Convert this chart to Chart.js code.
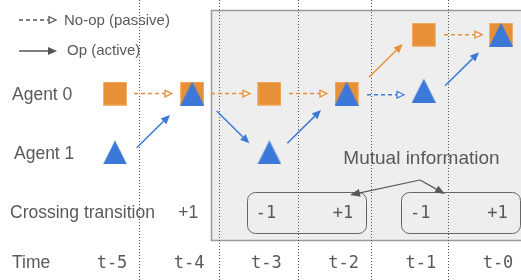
<!DOCTYPE html>
<html><head><meta charset="utf-8">
<script src="https://cdn.jsdelivr.net/npm/chart.js@4"></script>
<style>html,body{margin:0;padding:0;background:#fff}</style>
</head><body>
<canvas id="c" width="521" height="280"></canvas>
<script>
// ---- data ----
const timeLabels = ['t-5', 't-4', 't-3', 't-2', 't-1', 't-0'];
const rowLabels = ['Agent 0', 'Agent 1', 'Crossing transition', 'Time'];
const rowLevels = [2, 1, 0, -0.85];
const agent0Level = [2, 2, 2, 2, 3, 3];
const agent1Level = [1, 2, 1, 2, 2.05, 3];
const crossingValues = ['', '+1', '-1', '+1', '-1', '+1'];
const crossingGroups = [[2, 3], [4, 5]];           // time indices paired in boxes
const mutualInfoLabel = 'Mutual information';
const legendLabels = ['No-op (passive)', 'Op (active)'];
// transitions: [x0, y0, x1, y1, agent]  (time index, level)
const activeMoves = [
  [0.281, 1.081, 0.712, 1.637, 1],
  [1.317, 1.704, 1.740, 1.156, 1],
  [2.232, 1.156, 2.668, 1.721, 1],
  [3.290, 2.277, 3.727, 2.842, 0],
  [4.275, 2.134, 4.715, 2.701, 1]
];
const passiveMoves = [
  [0.246, 2, 0.738, 2, 0],
  [1.244, 2, 1.749, 2, 0],
  [2.254, 2, 2.746, 2, 0],
  [3.264, 1.98, 3.743, 1.98, 1],
  [4.262, 3, 4.754, 3, 0]
];
const dividers = [0.311, 1.347, 2.370, 3.316, 4.313];

// ---- styles ----
const ORANGE = '#e69138', BLUE = '#3c78d8', TEXT = '#595959';
const agentColors = [ORANGE, BLUE];
const SANS = '"Liberation Sans", Arial, sans-serif';
const MONO = '"DejaVu Sans Mono", monospace';
const LABEL_DX = -3;

function makeSquare() {
  const c = document.createElement('canvas'); c.width = 24; c.height = 24;
  const g = c.getContext('2d'); g.fillStyle = ORANGE; g.fillRect(0, 0, 24, 24);
  g.strokeStyle = 'rgba(255,200,150,0.6)'; g.lineWidth = 1; g.strokeRect(0.5, 0.5, 23, 23);
  return c;
}
function makeTriangle() {
  const c = document.createElement('canvas'); c.width = 24; c.height = 24;
  const g = c.getContext('2d'); g.fillStyle = BLUE;
  g.beginPath(); g.moveTo(12, 0); g.lineTo(24, 24); g.lineTo(0, 24); g.closePath(); g.fill();
  return c;
}

function head(ctx, x, y, ang, len, hw, hollow, color) {
  ctx.save();
  ctx.translate(x, y); ctx.rotate(ang);
  ctx.setLineDash([]);
  ctx.beginPath(); ctx.moveTo(0, 0); ctx.lineTo(-len, -hw); ctx.lineTo(-len, hw); ctx.closePath();
  if (hollow) { ctx.fillStyle = '#fff'; ctx.fill(); ctx.strokeStyle = color; ctx.lineWidth = 1.3; ctx.stroke(); }
  else { ctx.fillStyle = color; ctx.fill(); }
  ctx.restore();
}
function arrow(ctx, x0, y0, x1, y1, color, dashed) {
  const ang = Math.atan2(y1 - y0, x1 - x0);
  const len = dashed ? 7 : 9;
  const ex = x1 - Math.cos(ang) * len, ey = y1 - Math.sin(ang) * len;
  ctx.save();
  ctx.strokeStyle = color; ctx.lineWidth = 1.5;
  ctx.setLineDash(dashed ? [4, 3] : []);
  ctx.beginPath(); ctx.moveTo(x0, y0); ctx.lineTo(ex, ey); ctx.stroke();
  ctx.restore();
  head(ctx, x1, y1, ang, len, dashed ? 3.3 : 4, dashed, color);
}
function roundRect(ctx, x, y, w, h, r) {
  ctx.beginPath();
  ctx.moveTo(x + r, y); ctx.lineTo(x + w - r, y); ctx.arcTo(x + w, y, x + w, y + r, r);
  ctx.lineTo(x + w, y + h - r); ctx.arcTo(x + w, y + h, x + w - r, y + h, r);
  ctx.lineTo(x + r, y + h); ctx.arcTo(x, y + h, x, y + h - r, r);
  ctx.lineTo(x, y + r); ctx.arcTo(x, y, x + r, y, r); ctx.closePath();
}

const diagram = {
  id: 'diagram',
  beforeDatasetsDraw(chart) {
    const ctx = chart.ctx, xs = chart.scales.x, ys = chart.scales.y;
    const X = v => xs.getPixelForValue(v), Y = v => ys.getPixelForValue(v);
    ctx.save();
    // shaded window
    const bx = Math.round(X(1.244)) + 0.5, by = Math.round(Y(3.419)) + 0.5, bb = Math.round(Y(-0.486)) + 0.5;
    ctx.fillStyle = '#eeeeee';
    ctx.fillRect(bx, by, chart.width - bx + 5, bb - by);
    ctx.strokeStyle = '#9a9a9a'; ctx.lineWidth = 1.5;
    ctx.strokeRect(bx, by, chart.width - bx + 5, bb - by);
    // dotted dividers
    ctx.strokeStyle = '#555'; ctx.lineWidth = 1; ctx.setLineDash([1, 2]);
    dividers.forEach(d => {
      const px = Math.round(X(d)) + 0.5;
      ctx.beginPath(); ctx.moveTo(px, 0); ctx.lineTo(px, chart.height); ctx.stroke();
    });
    ctx.setLineDash([]);
    // crossing groups
    ctx.strokeStyle = '#666'; ctx.lineWidth = 1;
    crossingGroups.forEach(([a, b]) => {
      const l = Math.round(X(a - 0.295)) + 0.5, r = Math.round(X(b + 0.245)) + 0.5;
      const t = Math.round(Y(0.329)) + 0.5, btm = Math.round(Y(-0.367)) + 0.5;
      roundRect(ctx, l, t, r - l, btm - t, 8); ctx.stroke();
    });
    // mutual information arrows
    const apex = [X(3.951), Y(0.533)];
    const tips = [[X(3.044), Y(0.278)], [X(4.275), Y(0.295)]];
    ctx.strokeStyle = TEXT; ctx.lineWidth = 1.2;
    tips.forEach(t => {
      const ang = Math.atan2(t[1] - apex[1], t[0] - apex[0]);
      ctx.beginPath(); ctx.moveTo(apex[0], apex[1]);
      ctx.lineTo(t[0] - Math.cos(ang) * 9, t[1] - Math.sin(ang) * 9); ctx.stroke();
      head(ctx, t[0], t[1], ang, 10, 4, false, TEXT);
    });
    // transitions
    passiveMoves.forEach(m => arrow(ctx, X(m[0]), Y(m[1]), X(m[2]), Y(m[3]), agentColors[m[4]], true));
    activeMoves.forEach(m => arrow(ctx, X(m[0]), Y(m[1]), X(m[2]), Y(m[3]), agentColors[m[4]], false));
    // legend
    arrow(ctx, 19, 20, 56, 20, '#555', true);
    arrow(ctx, 19, 51, 57, 51, '#555', false);
    ctx.fillStyle = TEXT; ctx.textBaseline = 'alphabetic'; ctx.textAlign = 'left';
    ctx.font = '15px ' + SANS;
    ctx.fillText(legendLabels[0], 64, 24.5);
    ctx.fillText(legendLabels[1], 67, 55);
    // row labels
    ctx.font = '17.5px ' + SANS;
    const rowX = [12, 14, 10, 12];
    rowLabels.forEach((t, i) => ctx.fillText(t, rowX[i], Y(rowLevels[i]) + 6.5));
    // mutual information label
    ctx.font = '19px ' + SANS; ctx.textAlign = 'center';
    ctx.fillText(mutualInfoLabel, X(3.97), Y(0.57) - 13.5);
    // crossing values
    crossingValues.forEach((v, i) => {
      if (!v) return;
      const inBox = crossingGroups.some(g => g.includes(i));
      ctx.font = inBox ? '17px ' + MONO : '17.5px ' + SANS;
      ctx.fillText(v, X(i) + LABEL_DX - (inBox ? 0.5 : 1), Y(rowLevels[2]) + 6.5);
    });
    // time labels
    ctx.font = '17px ' + MONO;
    timeLabels.forEach((t, i) => ctx.fillText(t, X(i) + LABEL_DX, Y(rowLevels[3]) + 6.5));
    ctx.restore();
  }
};

new Chart(document.getElementById('c'), {
  type: 'scatter',
  data: {
    datasets: [
      { label: 'Agent 1', data: agent1Level.map((v, i) => ({ x: i, y: v })),
        pointStyle: makeTriangle(), pointRadius: 12, order: 0, clip: false },
      { label: 'Agent 0', data: agent0Level.map((v, i) => ({ x: i, y: v })),
        pointStyle: makeSquare(), pointRadius: 12, order: 1, clip: false }
    ]
  },
  options: {
    responsive: false, animation: false, events: [],
    layout: { padding: 0, autoPadding: false },
    plugins: { legend: { display: false }, tooltip: { enabled: false } },
    scales: {
      x: { type: 'linear', display: false, min: -1.4896, max: 5.259 },
      y: { type: 'linear', display: false, min: -1.165, max: 3.589 }
    }
  },
  plugins: [diagram]
});
</script>
</body></html>
